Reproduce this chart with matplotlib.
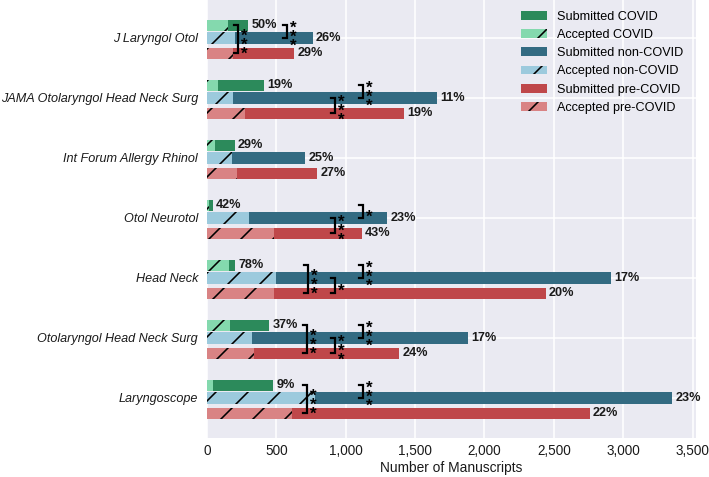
import matplotlib
matplotlib.use("Agg")
import matplotlib.pyplot as plt
import numpy as np

# ---------------- data ----------------
journals = ["J Laryngol Otol", "JAMA Otolaryngol Head Neck Surg", "Int Forum Allergy Rhinol",
            "Otol Neurotol", "Head Neck", "Otolaryngol Head Neck Surg", "Laryngoscope"]

sub_covid = [298, 413, 200, 41, 204, 449, 478]
acc_covid = [152, 80, 60, 18, 160, 168, 45]
sub_noncovid = [762, 1660, 709, 1300, 2911, 1880, 3355]
acc_noncovid = [202, 190, 178, 301, 500, 324, 775]
sub_pre = [630, 1420, 795, 1118, 2444, 1387, 2761]
acc_pre = [186, 272, 218, 482, 486, 336, 612]

pct_covid = ["50%", "19%", "29%", "42%", "78%", "37%", "9%"]
pct_noncovid = ["26%", "11%", "25%", "23%", "17%", "17%", "23%"]
pct_pre = ["29%", "19%", "27%", "43%", "20%", "24%", "22%"]

# significance brackets: journal index, bars compared, x position, stars
sig_journal = [0, 0, 1, 1, 3, 3, 4, 4, 4, 5, 5, 5, 6, 6]
sig_from = ["covid", "covid", "covid", "non", "covid", "non", "covid", "non", "covid",
            "covid", "non", "covid", "covid", "covid"]
sig_to = ["pre", "non", "non", "pre", "non", "pre", "pre", "pre", "non",
          "pre", "pre", "non", "pre", "non"]
sig_x = [226, 579, 1126, 923, 1127, 923, 730, 923, 1127, 719, 923, 1127, 719, 1127]
sig_stars = ["***", "***", "***", "***", "*", "***", "***", "*", "***",
             "***", "***", "***", "***", "***"]

xticks = [0, 500, 1000, 1500, 2000, 2500, 3000, 3500]
xtick_labels = ["0", "500", "1,000", "1,500", "2,000", "2,500", "3,000", "3,500"]

# ---------------- style ----------------
DPI = 192
W, H = 709, 477


def px(v):
    return v * 72.0 / DPI


plt.rcParams["font.family"] = ["Liberation Sans", "DejaVu Sans"]
plt.rcParams["hatch.linewidth"] = 0.6
plt.rcParams["hatch.color"] = "black"

c_sub_covid = "#2c8a5b"
c_acc_covid = "#84d9ae"
c_sub_non = "#336b82"
c_acc_non = "#9ccadd"
c_sub_pre = "#bf474a"
c_acc_pre = "#d98384"
txt = "#1a1a1a"

fig = plt.figure(figsize=(W / DPI, H / DPI), dpi=DPI)
ax = fig.add_axes([207 / W, 39 / H, 489 / W, 438 / H])
ax.set_facecolor("#EAEAF2")
for s in ax.spines.values():
    s.set_visible(False)
ax.grid(True, color="white", linewidth=px(1.6))
ax.set_axisbelow(True)

y = np.arange(len(journals))
h = 0.19
off = {"covid": -0.21, "non": 0.0, "pre": 0.255}
hatch = "//"

b1 = ax.barh(y + off["covid"], sub_covid, height=h, color=c_sub_covid, linewidth=0, label="Submitted COVID")
b2 = ax.barh(y + off["covid"], acc_covid, height=h, color=c_acc_covid, hatch=hatch, linewidth=0, label="Accepted COVID")
b3 = ax.barh(y + off["non"], sub_noncovid, height=h, color=c_sub_non, linewidth=0, label="Submitted non-COVID")
b4 = ax.barh(y + off["non"], acc_noncovid, height=h, color=c_acc_non, hatch=hatch, linewidth=0, label="Accepted non-COVID")
b5 = ax.barh(y + off["pre"], sub_pre, height=h, color=c_sub_pre, linewidth=0, label="Submitted pre-COVID")
b6 = ax.barh(y + off["pre"], acc_pre, height=h, color=c_acc_pre, hatch=hatch, linewidth=0, label="Accepted pre-COVID")

for vals, pcts, key in [(sub_covid, pct_covid, "covid"), (sub_noncovid, pct_noncovid, "non"), (sub_pre, pct_pre, "pre")]:
    for i, (v, p) in enumerate(zip(vals, pcts)):
        ax.annotate(p, (v, i + off[key]), xytext=(px(3), 0), textcoords="offset points",
                    ha="left", va="center", fontsize=px(12.6), fontweight="bold", color=txt)

units_per_px = 3525 / 489.0
tick = 4 * units_per_px
star_fs = 17.0
for j, a, b, x, st in zip(sig_journal, sig_from, sig_to, sig_x, sig_stars):
    y1 = j + off[a]
    y2 = j + off[b]
    ax.plot([x - tick, x, x, x - tick], [y1, y1, y2, y2], color="black", lw=px(2.2),
            solid_joinstyle="miter", zorder=5)
    ax.annotate("\n".join(st), (x, (y1 + y2) / 2),
                xytext=(px(3.0), -px(0.32 * star_fs)), textcoords="offset points",
                ha="left", va="center", multialignment="left", linespacing=0.5,
                fontsize=px(star_fs), fontweight="bold", color="black", zorder=6)

ax.set_xlim(0, 3525)
ax.set_ylim(6.667, -0.633)
ax.set_yticks(y)
ax.set_yticklabels(journals, fontstyle="italic", fontsize=px(12.6), color=txt)
ax.set_xticks(xticks)
ax.set_xticklabels(xtick_labels, fontsize=px(13.5), color=txt)
ax.tick_params(axis="both", length=0)
ax.tick_params(axis="y", pad=px(9))
ax.tick_params(axis="x", pad=px(6))
ax.set_xlabel("Number of Manuscripts", fontsize=px(13.8), color=txt, labelpad=px(3))

handles = [b1, b2, b3, b4, b5, b6]
labels = [hd.get_label() for hd in handles]
ax.legend(handles, labels, loc="upper left", bbox_to_anchor=(521 / W, 1 - 10.5 / H),
          bbox_transform=fig.transFigure, frameon=False, fontsize=px(12.6),
          handlelength=26 / 12.6, handleheight=9 / 12.6, handletextpad=10 / 12.6,
          labelspacing=0.5, borderpad=0, borderaxespad=0)

fig.savefig("out.png", dpi=DPI)
